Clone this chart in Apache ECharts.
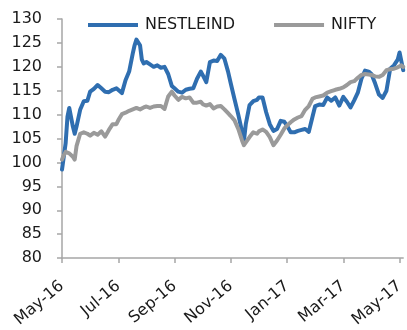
<!DOCTYPE html>
<html>
<head>
<meta charset="utf-8">
<script src="https://cdn.jsdelivr.net/npm/echarts@6/dist/echarts.min.js"></script>
<style>
html,body{margin:0;padding:0;background:#fff;}
#c{width:407px;height:330px;}
</style>
</head>
<body>
<div id="c"></div>
<script>
const seriesNames = ['NESTLEIND', 'NIFTY'];
const dates = [
'2016-05-01','2016-05-03','2016-05-05','2016-05-07','2016-05-09','2016-05-13','2016-05-15','2016-05-17','2016-05-21','2016-05-25','2016-05-29',
'2016-06-01','2016-06-05','2016-06-09','2016-06-13','2016-06-17','2016-06-21','2016-06-25','2016-06-29',
'2016-07-01','2016-07-05','2016-07-09','2016-07-13','2016-07-17','2016-07-19','2016-07-21','2016-07-25','2016-07-27','2016-07-29',
'2016-08-01','2016-08-05','2016-08-09','2016-08-13','2016-08-17','2016-08-21','2016-08-25','2016-08-29',
'2016-09-01','2016-09-05','2016-09-09','2016-09-13','2016-09-17','2016-09-21','2016-09-25','2016-09-29',
'2016-10-01','2016-10-05','2016-10-09','2016-10-13','2016-10-17','2016-10-21','2016-10-25','2016-10-29',
'2016-11-01','2016-11-05','2016-11-09','2016-11-13','2016-11-15','2016-11-17','2016-11-21','2016-11-25','2016-11-29',
'2016-12-01','2016-12-05','2016-12-09','2016-12-13','2016-12-17','2016-12-21','2016-12-25','2016-12-29',
'2017-01-01','2017-01-05','2017-01-09','2017-01-13','2017-01-17','2017-01-21','2017-01-25','2017-01-29',
'2017-02-01','2017-02-05','2017-02-09','2017-02-13','2017-02-17','2017-02-21','2017-02-25',
'2017-03-01','2017-03-05','2017-03-09','2017-03-13','2017-03-17','2017-03-21','2017-03-25','2017-03-29',
'2017-04-01','2017-04-05','2017-04-09','2017-04-13','2017-04-17','2017-04-21','2017-04-25','2017-04-29',
'2017-05-01','2017-05-03','2017-05-05'
];
const nestleind = [
98.5,98.8,104,109.5,111.4,107.5,106,107.5,111,112.8,112.9,
114.8,115.4,116.2,115.5,114.8,114.7,115.2,115.5,
115.7,114.5,117.2,119,122.8,124.5,125.7,124.5,121.5,120.7,
121,120.5,120,120.3,119.8,120,118.5,116,
115.5,114.8,114.6,115.2,115.4,115.5,117.5,119,
118.3,116.8,121,121.3,121.2,122.5,121.7,119,
116.5,113.2,110,106.5,104.5,108,112,112.8,113.1,
113.6,113.6,110.5,108,106.6,107,108.7,108.5,
107.7,106.3,106.3,106.6,106.8,107,106.4,109.5,
111.8,112.1,112,113.6,112.9,113.6,111.9,
113.7,112.7,111.5,113,114.6,117.5,119.2,119,
118.5,116.5,114.2,113.5,115,119.6,120.3,121.5,
123,123,119.3
];
const nifty = [
100.6,101.5,102.2,102,101.9,101.2,100.6,103.4,106,106.3,106,
105.6,106.2,105.8,106.5,105.4,106.8,108,108,
108.8,110.1,110.4,110.8,111.1,111.2,111.4,111.1,111.3,111.5,
111.7,111.4,111.7,111.8,111.8,111.2,113.8,114.8,
114,113.1,113.7,113.4,113.6,112.5,112.5,112.7,
112.2,111.9,112.2,111.3,111.7,111.8,111.1,110.3,
109.7,108.8,107,104.6,103.6,103.9,105.3,106.3,106,
106.5,106.9,106.4,105.3,103.6,104.6,105.8,107.1,
107.7,108.4,109,109.4,109.7,111,111.8,113.3,
113.6,113.8,114,114.6,114.9,115.2,115.4,
115.7,116.2,116.8,117,117.7,118.3,118.5,118.4,
118.3,118,117.9,118.3,119.3,119.5,119.6,119.9,
120.2,120.3,120
];
const xTickLabels = ['May-16','Jul-16','Sep-16','Nov-16','Jan-17','Mar-17','May-17'];
const yTicks = [80, 85, 90, 95, 100, 105, 110, 115, 120, 125, 130];

const MONTHS = ['Jan','Feb','Mar','Apr','May','Jun','Jul','Aug','Sep','Oct','Nov','Dec'];
function monthIndex(s) {
  const p = s.split('-').map(Number);
  const dim = new Date(p[0], p[1], 0).getDate();
  return (p[0] - 2016) * 12 + (p[1] - 5) + (p[2] - 1) / dim;
}
function labelIndex(lbl) {
  const [mon, yy] = lbl.split('-');
  return (2000 + Number(yy) - 2016) * 12 + (MONTHS.indexOf(mon) + 1 - 5);
}
const tickVals = xTickLabels.map(labelIndex);
const labelMap = {};
xTickLabels.forEach((l, i) => { labelMap[tickVals[i]] = l; });
const xs = dates.map(monthIndex);
const blueData = xs.map((x, i) => [x, nestleind[i]]);
const grayData = xs.map((x, i) => [x, nifty[i]]);

const chart = echarts.init(document.getElementById('c'), null, {renderer: 'canvas'});
const FONT = 'DejaVu Sans';
chart.setOption({
  animation: false,
  backgroundColor: '#ffffff',
  grid: {left: 62, right: 1, top: 19, bottom: 66, containLabel: false},
  legend: {
    data: seriesNames,
    left: 83, top: 12,
    icon: 'rect', itemWidth: 50, itemHeight: 4, itemGap: 39,
    textStyle: {fontFamily: FONT, fontSize: 16, color: '#1a1a1a', padding: [0,0,0,2]}
  },
  xAxis: {
    type: 'value',
    min: tickVals[0], max: xs[xs.length - 1],
    interval: 2,
    splitLine: {show: false},
    axisLine: {show: true, lineStyle: {color: '#a6a6a6', width: 1.5}},
    axisTick: {show: true, length: 5, customValues: tickVals, lineStyle: {color: '#a6a6a6', width: 1.5}},
    axisLabel: {
      customValues: tickVals,
      rotate: 40, margin: 26,
      fontFamily: FONT, fontSize: 16, color: '#1a1a1a',
      formatter: v => labelMap[v] || ''
    }
  },
  yAxis: {
    type: 'value',
    min: yTicks[0], max: yTicks[yTicks.length - 1], interval: 5,
    splitLine: {show: false},
    axisLine: {show: true, lineStyle: {color: '#a6a6a6', width: 1.5}},
    axisTick: {show: true, length: 5, lineStyle: {color: '#a6a6a6', width: 1.5}},
    axisLabel: {margin: 20, fontFamily: FONT, fontSize: 16, color: '#1a1a1a'}
  },
  series: [
    {name: seriesNames[0], type: 'line', data: blueData, showSymbol: false, symbol: 'none',
     itemStyle: {color: '#2f6eb0'}, lineStyle: {color: '#2f6eb0', width: 4, join: 'round', cap: 'round'}},
    {name: seriesNames[1], type: 'line', data: grayData, showSymbol: false, symbol: 'none',
     itemStyle: {color: '#9a9a9a'}, lineStyle: {color: '#9a9a9a', width: 4, join: 'round', cap: 'round'}}
  ]
});
</script>
</body>
</html>
